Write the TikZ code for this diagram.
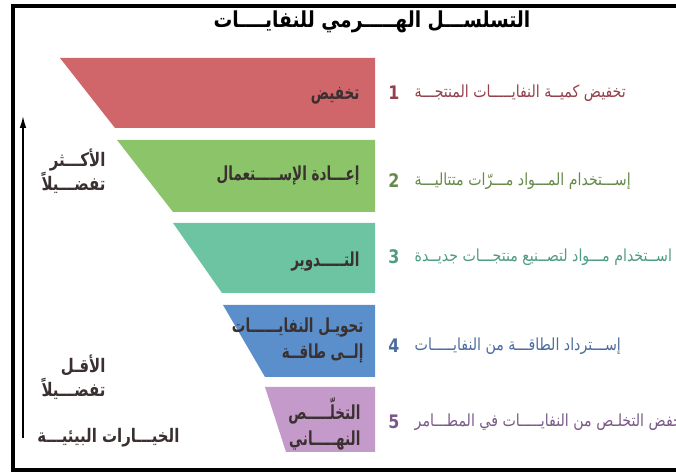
\documentclass[tikz,border=0pt]{standalone}
\usepackage{fontspec}
\newfontfamily\arabicfont[Script=Arabic, FakeStretch=0.85]{DejaVu Sans}
\newfontfamily\arabicnarrow[Script=Arabic, FakeStretch=0.7]{DejaVu Sans}
\newfontfamily\arabicslim[Script=Arabic, FakeStretch=0.8]{DejaVu Sans}
\TeXXeTstate=1
\usetikzlibrary{arrows.meta, positioning}
\definecolor{whRed}{HTML}{D0656A}
\definecolor{whGreen}{HTML}{8CC46A}
\definecolor{whTeal}{HTML}{6CC4A2}
\definecolor{whBlue}{HTML}{5B8FCB}
\definecolor{whPurple}{HTML}{C49ACB}
\definecolor{whRedInk}{HTML}{94404A}
\definecolor{whGreenInk}{HTML}{668A4C}
\definecolor{whTealInk}{HTML}{4F9C86}
\definecolor{whBlueInk}{HTML}{4A6C9E}
\definecolor{whPurpleInk}{HTML}{7A5888}
\definecolor{whInk}{HTML}{3A3030}
\tikzset{
  wh frame/.style={draw=black, line width=3pt},
  wh title/.style={
    inner sep=1pt, text=black,
    font=\arabicfont\bfseries\fontsize{16.5}{18}\selectfont
  },
  wh label/.style={
    anchor=east, align=right, inner sep=1pt, text=whInk,
    font=\arabicnarrow\bfseries\fontsize{14.5}{19.5}\selectfont
  },
  wh side/.style={
    anchor=east, align=right, inner sep=1pt, text=whInk,
    font=\arabicslim\bfseries\fontsize{14}{18}\selectfont
  },
  wh num/.style={
    inner sep=1pt,
    font=\arabicfont\bfseries\fontsize{14}{16}\selectfont
  },
  wh desc/.style={
    anchor=west, inner sep=1pt,
    font=\arabicfont\fontsize{12.5}{14}\selectfont
  },
  wh arrow/.style={
    -{Latex[length=9pt,width=5pt]}, line width=1.1pt, draw=black
  }
}
\begin{document}
\begin{tikzpicture}[x=0.75pt, y=-0.75pt]
  \useasboundingbox (0,0) rectangle (676,473);
  \clip (0,0) rectangle (676,473);
  % frame
  \draw[wh frame] (700,6.5) -- (13,6.5) -- (13,470) -- (700,470);

  % title
  \node[wh title] (title) at (372,22) {\beginR التسلســـل الهـــــرمي للنفايــــات\endR};

  % funnel bands
  \fill[whRed]    (60,58)   -- (375,58)  -- (375,128) -- (115,128) -- cycle;
  \fill[whGreen]  (117,140) -- (375,140) -- (375,212) -- (173,212) -- cycle;
  \fill[whTeal]   (173,223) -- (375,223) -- (375,293) -- (222,293) -- cycle;
  \fill[whBlue]   (223,305) -- (375,305) -- (375,377) -- (265,377) -- cycle;
  \fill[whPurple] (265,387) -- (375,387) -- (375,452) -- (286,452) -- cycle;

  % band labels
  \node[wh label] (reduce)  at (361,96)  {\beginR تخفيض\endR};
  \node[wh label] (reuse)   at (361,176) {\beginR إعـــادة الإســـــتعمال\endR};
  \node[wh label] (recycle) at (361,262) {\beginR التـــــدوير\endR};
  \node[wh label] (energy)  at (365,341) {\beginR تحويـل النفايــــــات\endR\\\beginR إلــى طاقــة\endR};
  \node[wh label] (dispose) at (362,424) {\beginR التخلّـــــص\endR\\\beginR النهـــــاني\endR};

  % numbers
  \node[wh num, text=whRedInk]    (n1) at (394,93)  {1};
  \node[wh num, text=whGreenInk]  (n2) at (394,181) {2};
  \node[wh num, text=whTealInk]   (n3) at (394,257) {3};
  \node[wh num, text=whBlueInk]   (n4) at (394,346) {4};
  \node[wh num, text=whPurpleInk] (n5) at (394,422) {5};

  % descriptions
  \node[wh desc, text=whRedInk, right=9pt of n1] (d1) {\beginR تخفيض كميــة النفايـــــات المنتجـــة\endR};
  \node[wh desc, text=whGreenInk, right=9pt of n2] (d2) {\beginR إســـتخدام المـــواد مـــرّات متتاليـــة\endR};
  \node[wh desc, text=whTealInk, right=9pt of n3] (d3) {\beginR اســتخدام مـــواد لتصــنيع منتجـــات جديــدة\endR};
  \node[wh desc, text=whBlueInk, right=9pt of n4] (d4) {\beginR إســـترداد الطاقـــة من النفايـــــات\endR};
  \node[wh desc, text=whPurpleInk, right=9pt of n5] (d5) {\beginR خفض التخلـص من النفايـــــات في المطـــامر\endR};

  % side notes
  \node[wh side] (most)  at (107,171) {\beginR الأكـــثر\endR\\\beginR تفضـــيلاً\endR};
  \node[wh side] (least) at (107,377) {\beginR الأقـل\endR\\\beginR تفضـــيلاً\endR};
  \node[wh side] (envir) at (181,438) {\beginR الخيـــارات البيئيـــة\endR};

  % preference arrow
  \coordinate (low)  at (23,438);
  \coordinate (high) at (23,116);
  \draw[wh arrow] (low) -- (high);
\end{tikzpicture}
\end{document}
